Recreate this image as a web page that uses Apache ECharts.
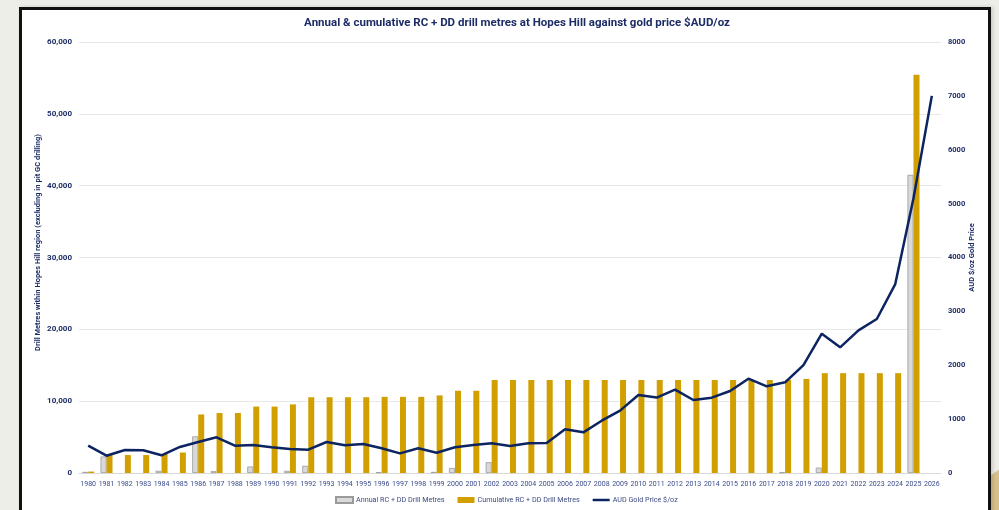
<!DOCTYPE html>
<html>
<head>
<meta charset="utf-8">
<script src="https://cdn.jsdelivr.net/npm/echarts@6/dist/echarts.min.js"></script>
<style>
  html, body { margin: 0; padding: 0; background: #eeeee8; }
  #wrap { position: relative; width: 999px; height: 510px; overflow: hidden; background: #eeeee8; }
  #deco { position: absolute; left: 978px; top: 465px; width: 80px; height: 80px; border-radius: 50%; background: #d8c08a; }
  #frame { position: absolute; left: 19px; top: 7px; width: 966px; height: 520px; background: #fff; border: 3px solid #111; box-shadow: 2px 0 4px rgba(0,0,0,0.15); }
  #chart { position: absolute; left: 0; top: 0; width: 999px; height: 510px; }
</style>
</head>
<body>
<div id="wrap">
  <div id="deco"></div>
  <div id="frame"></div>
  <div id="chart"></div>
</div>
<script>
const years = ['1980','1981','1982','1983','1984','1985','1986','1987','1988','1989','1990','1991','1992','1993','1994','1995','1996','1997','1998','1999','2000','2001','2002','2003','2004','2005','2006','2007','2008','2009','2010','2011','2012','2013','2014','2015','2016','2017','2018','2019','2020','2021','2022','2023','2024','2025','2026'];

const annualMetres = [150, 2300, null, null, 300, null, 5100, 250, null, 900, null, 300, 1000, null, null, null, 100, null, null, 150, 700, null, 1500, null, null, null, null, null, null, null, null, null, null, null, null, null, null, null, 100, null, 750, null, null, null, null, 41500, null];

const cumulativeMetres = [200, 2500, 2500, 2500, 2650, 2850, 8150, 8350, 8350, 9250, 9250, 9550, 10550, 10550, 10550, 10550, 10600, 10600, 10600, 10800, 11450, 11450, 12950, 12950, 12950, 12950, 12950, 12950, 12950, 12950, 12950, 12950, 12950, 12950, 12950, 12950, 12950, 12950, 13000, 13100, 13900, 13900, 13900, 13900, 13900, 55450, null];

const goldPrice = [507, 321, 427, 421, 328, 483, 575, 662, 507, 520, 477, 445, 433, 575, 514, 538, 458, 365, 458, 377, 477, 520, 551, 501, 551, 557, 811, 755, 971, 1157, 1448, 1400, 1546, 1355, 1398, 1522, 1750, 1609, 1683, 2004, 2585, 2333, 2648, 2858, 3500, 5100, 7000];

const leftTicks = { min: 0, max: 60000, interval: 10000 };
const rightTicks = { min: 0, max: 8000, interval: 1000 };

const navy = '#1d2c66';
const chart = echarts.init(document.getElementById('chart'));
chart.setOption({
  backgroundColor: 'transparent',
  animation: false,
  textStyle: { fontFamily: 'Roboto' },
  title: {
    text: 'Annual & cumulative RC + DD drill metres at Hopes Hill against gold price $AUD/oz',
    left: 512, top: 12, textAlign: 'center',
    textStyle: { fontSize: 11.5, fontWeight: 'bold', color: navy, fontFamily: 'Roboto' }
  },
  grid: { left: 79, right: 58, top: 42, bottom: 37, containLabel: false },
  legend: {
    left: 335, top: 496, padding: 0, itemWidth: 17, itemHeight: 6, itemGap: 13,
    textStyle: { fontSize: 7.2, color: '#3b4a80', padding: [0, 0, 0, -2] },
    data: [
      { name: 'Annual RC + DD Drill Metres', icon: 'rect' },
      { name: 'Cumulative RC + DD Drill Metres', icon: 'rect' },
      { name: 'AUD Gold Price $/oz', icon: 'path://M0 0H34V5H0Z' }
    ]
  },
  xAxis: {
    type: 'category', data: years,
    axisTick: { show: false },
    axisLine: { lineStyle: { color: '#d9d9d9' } },
    axisLabel: { interval: 0, fontSize: 7, color: '#3a4a8a', margin: 8 }
  },
  yAxis: [
    {
      type: 'value', min: leftTicks.min, max: leftTicks.max, interval: leftTicks.interval,
      name: 'Drill Metres within Hopes Hill region (excluding in pit GC drilling)',
      nameLocation: 'middle', nameGap: 37, nameRotate: 90, nameMoveOverlap: false,
      nameTextStyle: { fontSize: 7.5, fontWeight: 'bold', color: navy, padding: [0, 0, 0, 30] },
      axisLine: { show: false }, axisTick: { show: false },
      splitLine: { lineStyle: { color: '#e8e8e8' } },
      axisLabel: {
        fontSize: 8, fontWeight: 'bold', color: navy, margin: 7,
        formatter: v => v.toLocaleString('en-US')
      }
    },
    {
      type: 'value', min: rightTicks.min, max: rightTicks.max, interval: rightTicks.interval,
      name: 'AUD $/oz Gold Price',
      nameLocation: 'middle', nameGap: 27, nameRotate: 90, nameMoveOverlap: false,
      nameTextStyle: { fontSize: 7.5, fontWeight: 'bold', color: navy },
      axisLine: { show: false }, axisTick: { show: false },
      splitLine: { show: false },
      axisLabel: { fontSize: 7.5, fontWeight: 'bold', color: navy, margin: 7, formatter: v => String(v) }
    }
  ],
  series: [
    {
      name: 'Annual RC + DD Drill Metres', type: 'bar', data: annualMetres,
      barWidth: 6, barGap: '0%',
      itemStyle: { color: '#d9d9d9', borderColor: '#9a9a9a', borderWidth: 0.8 }
    },
    {
      name: 'Cumulative RC + DD Drill Metres', type: 'bar', data: cumulativeMetres,
      barWidth: 6, barGap: '0%',
      itemStyle: { color: '#d19f00' }
    },
    {
      name: 'AUD Gold Price $/oz', type: 'line', yAxisIndex: 1, data: goldPrice,
      symbol: 'none', lineStyle: { color: '#0c2461', width: 2.5 }, itemStyle: { color: '#0c2461' }, z: 5
    }
  ]
});
</script>
</body>
</html>
